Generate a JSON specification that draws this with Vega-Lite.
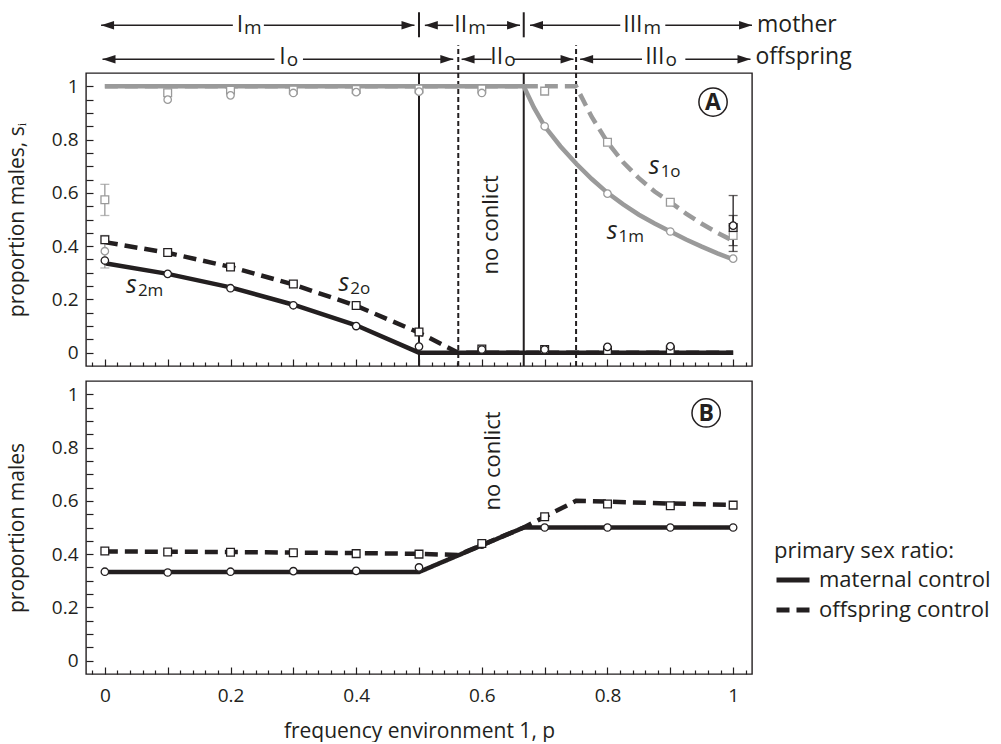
{
  "$schema": "https://vega.github.io/schema/vega-lite/v6.json",
  "padding": {"left": 5, "top": 10, "right": 0, "bottom": 0},
  "config": {
    "font": "Open Sans",
    "view": {"stroke": "#231f20", "strokeWidth": 1.4},
    "axis": {"labelFont": "Open Sans", "labelFontSize": 19, "labelColor": "#231f20", "titleFont": "Open Sans", "titleFontSize": 21, "titleFontWeight": "normal", "titleColor": "#231f20", "tickColor": "#231f20", "tickWidth": 1.2, "domain": false, "grid": false, "labelOverlap": false, "labelFlush": false},
    "text": {"color": "#231f20"}
  },
  "spacing": 12,
  "resolve": {"scale": {"x": "independent", "y": "independent", "strokeDash": "independent", "stroke": "independent", "color": "independent", "shape": "independent"}, "legend": {"strokeDash": "independent"}},
  "datasets": {
    "band": [{"x": 0.5625, "x2": 0.6667}],
    "vrules": [
      {"x": 0.5, "y": -0.05, "y2": 1.05, "kind": "solid"},
      {"x": 0.5, "y": 1.184, "y2": 1.278, "kind": "solid"},
      {"x": 0.6667, "y": -0.05, "y2": 1.05, "kind": "solid"},
      {"x": 0.6667, "y": 1.184, "y2": 1.278, "kind": "solid"},
      {"x": 0.5625, "y": -0.05, "y2": 1.154, "kind": "dashed"},
      {"x": 0.75, "y": -0.05, "y2": 1.154, "kind": "dashed"}
    ],
    "linesA": [
      {"x": 0, "y": 1, "variable": "s1", "control": "offspring control"},
      {"x": 0.75, "y": 1, "variable": "s1", "control": "offspring control"},
      {"x": 0.775, "y": 0.885, "variable": "s1", "control": "offspring control"},
      {"x": 0.8, "y": 0.79, "variable": "s1", "control": "offspring control"},
      {"x": 0.825, "y": 0.715, "variable": "s1", "control": "offspring control"},
      {"x": 0.85, "y": 0.655, "variable": "s1", "control": "offspring control"},
      {"x": 0.875, "y": 0.605, "variable": "s1", "control": "offspring control"},
      {"x": 0.9, "y": 0.565, "variable": "s1", "control": "offspring control"},
      {"x": 0.925, "y": 0.522, "variable": "s1", "control": "offspring control"},
      {"x": 0.95, "y": 0.484, "variable": "s1", "control": "offspring control"},
      {"x": 0.975, "y": 0.45, "variable": "s1", "control": "offspring control"},
      {"x": 1, "y": 0.42, "variable": "s1", "control": "offspring control"},
      {"x": 0, "y": 1, "variable": "s1", "control": "maternal control"},
      {"x": 0.6667, "y": 1, "variable": "s1", "control": "maternal control"},
      {"x": 0.683, "y": 0.92, "variable": "s1", "control": "maternal control"},
      {"x": 0.7, "y": 0.85, "variable": "s1", "control": "maternal control"},
      {"x": 0.725, "y": 0.775, "variable": "s1", "control": "maternal control"},
      {"x": 0.75, "y": 0.71, "variable": "s1", "control": "maternal control"},
      {"x": 0.775, "y": 0.652, "variable": "s1", "control": "maternal control"},
      {"x": 0.8, "y": 0.6, "variable": "s1", "control": "maternal control"},
      {"x": 0.825, "y": 0.557, "variable": "s1", "control": "maternal control"},
      {"x": 0.85, "y": 0.518, "variable": "s1", "control": "maternal control"},
      {"x": 0.875, "y": 0.485, "variable": "s1", "control": "maternal control"},
      {"x": 0.9, "y": 0.455, "variable": "s1", "control": "maternal control"},
      {"x": 0.925, "y": 0.425, "variable": "s1", "control": "maternal control"},
      {"x": 0.95, "y": 0.398, "variable": "s1", "control": "maternal control"},
      {"x": 0.975, "y": 0.373, "variable": "s1", "control": "maternal control"},
      {"x": 1, "y": 0.35, "variable": "s1", "control": "maternal control"},
      {"x": 0, "y": 0.415, "variable": "s2", "control": "offspring control"},
      {"x": 0.1, "y": 0.375, "variable": "s2", "control": "offspring control"},
      {"x": 0.2, "y": 0.322, "variable": "s2", "control": "offspring control"},
      {"x": 0.3, "y": 0.256, "variable": "s2", "control": "offspring control"},
      {"x": 0.4, "y": 0.176, "variable": "s2", "control": "offspring control"},
      {"x": 0.5, "y": 0.075, "variable": "s2", "control": "offspring control"},
      {"x": 0.5625, "y": 0, "variable": "s2", "control": "offspring control"},
      {"x": 1, "y": 0, "variable": "s2", "control": "offspring control"},
      {"x": 0, "y": 0.336, "variable": "s2", "control": "maternal control"},
      {"x": 0.1, "y": 0.296, "variable": "s2", "control": "maternal control"},
      {"x": 0.2, "y": 0.245, "variable": "s2", "control": "maternal control"},
      {"x": 0.3, "y": 0.18, "variable": "s2", "control": "maternal control"},
      {"x": 0.4, "y": 0.103, "variable": "s2", "control": "maternal control"},
      {"x": 0.5, "y": 0, "variable": "s2", "control": "maternal control"},
      {"x": 1, "y": 0, "variable": "s2", "control": "maternal control"}
    ],
    "ptsA": [
      {"x": 0, "y": 0.381, "variable": "s1", "control": "maternal control"},
      {"x": 0.1, "y": 0.95, "variable": "s1", "control": "maternal control"},
      {"x": 0.2, "y": 0.966, "variable": "s1", "control": "maternal control"},
      {"x": 0.3, "y": 0.975, "variable": "s1", "control": "maternal control"},
      {"x": 0.4, "y": 0.978, "variable": "s1", "control": "maternal control"},
      {"x": 0.5, "y": 0.98, "variable": "s1", "control": "maternal control"},
      {"x": 0.6, "y": 0.975, "variable": "s1", "control": "maternal control"},
      {"x": 0.7, "y": 0.85, "variable": "s1", "control": "maternal control"},
      {"x": 0.8, "y": 0.597, "variable": "s1", "control": "maternal control"},
      {"x": 0.9, "y": 0.455, "variable": "s1", "control": "maternal control"},
      {"x": 1, "y": 0.353, "variable": "s1", "control": "maternal control"},
      {"x": 0, "y": 0.574, "variable": "s1", "control": "offspring control"},
      {"x": 0.1, "y": 0.976, "variable": "s1", "control": "offspring control"},
      {"x": 0.2, "y": 0.985, "variable": "s1", "control": "offspring control"},
      {"x": 0.3, "y": 0.986, "variable": "s1", "control": "offspring control"},
      {"x": 0.4, "y": 0.988, "variable": "s1", "control": "offspring control"},
      {"x": 0.5, "y": 0.99, "variable": "s1", "control": "offspring control"},
      {"x": 0.6, "y": 0.99, "variable": "s1", "control": "offspring control"},
      {"x": 0.7, "y": 0.982, "variable": "s1", "control": "offspring control"},
      {"x": 0.8, "y": 0.79, "variable": "s1", "control": "offspring control"},
      {"x": 0.9, "y": 0.565, "variable": "s1", "control": "offspring control"},
      {"x": 1, "y": 0.44, "variable": "s1", "control": "offspring control"},
      {"x": 0, "y": 0.346, "variable": "s2", "control": "maternal control"},
      {"x": 0.1, "y": 0.296, "variable": "s2", "control": "maternal control"},
      {"x": 0.2, "y": 0.242, "variable": "s2", "control": "maternal control"},
      {"x": 0.3, "y": 0.178, "variable": "s2", "control": "maternal control"},
      {"x": 0.4, "y": 0.1, "variable": "s2", "control": "maternal control"},
      {"x": 0.5, "y": 0.023, "variable": "s2", "control": "maternal control"},
      {"x": 0.6, "y": 0.012, "variable": "s2", "control": "maternal control"},
      {"x": 0.7, "y": 0.012, "variable": "s2", "control": "maternal control"},
      {"x": 0.8, "y": 0.022, "variable": "s2", "control": "maternal control"},
      {"x": 0.9, "y": 0.024, "variable": "s2", "control": "maternal control"},
      {"x": 1, "y": 0.477, "variable": "s2", "control": "maternal control"},
      {"x": 0, "y": 0.424, "variable": "s2", "control": "offspring control"},
      {"x": 0.1, "y": 0.376, "variable": "s2", "control": "offspring control"},
      {"x": 0.2, "y": 0.322, "variable": "s2", "control": "offspring control"},
      {"x": 0.3, "y": 0.258, "variable": "s2", "control": "offspring control"},
      {"x": 0.4, "y": 0.177, "variable": "s2", "control": "offspring control"},
      {"x": 0.5, "y": 0.078, "variable": "s2", "control": "offspring control"},
      {"x": 0.6, "y": 0.014, "variable": "s2", "control": "offspring control"},
      {"x": 0.7, "y": 0.012, "variable": "s2", "control": "offspring control"},
      {"x": 0.8, "y": 0.008, "variable": "s2", "control": "offspring control"},
      {"x": 0.9, "y": 0.01, "variable": "s2", "control": "offspring control"},
      {"x": 1, "y": 0.47, "variable": "s2", "control": "offspring control"}
    ],
    "errA": [
      {"x": 0, "lo": 0.515, "hi": 0.632, "variable": "s1"},
      {"x": 0, "lo": 0.318, "hi": 0.44, "variable": "s1"},
      {"x": 1, "lo": 0.38, "hi": 0.59, "variable": "s2"},
      {"x": 1, "lo": 0.402, "hi": 0.515, "variable": "s2"}
    ],
    "sLabels": [
      {"x": 0.051, "y": 0.223, "main": "s", "sub": "2m"},
      {"x": 0.389, "y": 0.233, "main": "s", "sub": "2o"},
      {"x": 0.883, "y": 0.672, "main": "s", "sub": "1o"},
      {"x": 0.816, "y": 0.427, "main": "s", "sub": "1m"}
    ],
    "arrowLines": [
      {"x": -0.006, "x2": 0.2037, "y": 1.229},
      {"x": 0.2531, "x2": 0.4928, "y": 1.229},
      {"x": 0.5093, "x2": 0.5545, "y": 1.229},
      {"x": 0.6077, "x2": 0.6608, "y": 1.229},
      {"x": 0.6767, "x2": 0.8203, "y": 1.229},
      {"x": 0.892, "x2": 1.03, "y": 1.229},
      {"x": -0.0037, "x2": 0.27, "y": 1.1015},
      {"x": 0.3153, "x2": 0.5545, "y": 1.1015},
      {"x": 0.5678, "x2": 0.6156, "y": 1.1015},
      {"x": 0.6502, "x2": 0.7459, "y": 1.1015},
      {"x": 0.7565, "x2": 0.8549, "y": 1.1015},
      {"x": 0.9239, "x2": 1.0276, "y": 1.1015}
    ],
    "arrowHeads": [
      {"x": -0.006, "y": 1.229, "dir": "L"},
      {"x": 0.4928, "y": 1.229, "dir": "R"},
      {"x": 0.5093, "y": 1.229, "dir": "L"},
      {"x": 0.6608, "y": 1.229, "dir": "R"},
      {"x": 0.6767, "y": 1.229, "dir": "L"},
      {"x": 1.03, "y": 1.229, "dir": "R"},
      {"x": -0.0037, "y": 1.1015, "dir": "L"},
      {"x": 0.5545, "y": 1.1015, "dir": "R"},
      {"x": 0.5678, "y": 1.1015, "dir": "L"},
      {"x": 0.7459, "y": 1.1015, "dir": "R"},
      {"x": 0.7565, "y": 1.1015, "dir": "L"},
      {"x": 1.0276, "y": 1.1015, "dir": "R"}
    ],
    "roman": [
      {"x": 0.22, "y": 1.203, "main": "I", "sub": "m"},
      {"x": 0.5766, "y": 1.203, "main": "II", "sub": "m"},
      {"x": 0.8557, "y": 1.203, "main": "III", "sub": "m"},
      {"x": 0.2879, "y": 1.085, "main": "I", "sub": "o"},
      {"x": 0.634, "y": 1.085, "main": "II", "sub": "o"},
      {"x": 0.8907, "y": 1.085, "main": "III", "sub": "o"}
    ],
    "sideLabels": [
      {"x": 1.038, "y": 1.203, "t": "mother"},
      {"x": 1.0356, "y": 1.085, "t": "offspring"}
    ],
    "linesB": [
      {"x": 0, "y": 0.41, "control": "offspring control"},
      {"x": 0.1, "y": 0.409, "control": "offspring control"},
      {"x": 0.2, "y": 0.408, "control": "offspring control"},
      {"x": 0.3, "y": 0.406, "control": "offspring control"},
      {"x": 0.4, "y": 0.404, "control": "offspring control"},
      {"x": 0.5, "y": 0.401, "control": "offspring control"},
      {"x": 0.5625, "y": 0.397, "control": "offspring control"},
      {"x": 0.6667, "y": 0.5, "control": "offspring control"},
      {"x": 0.7, "y": 0.54, "control": "offspring control"},
      {"x": 0.75, "y": 0.6, "control": "offspring control"},
      {"x": 0.8, "y": 0.597, "control": "offspring control"},
      {"x": 0.9, "y": 0.59, "control": "offspring control"},
      {"x": 1, "y": 0.585, "control": "offspring control"},
      {"x": 0, "y": 0.333, "control": "maternal control"},
      {"x": 0.5, "y": 0.333, "control": "maternal control"},
      {"x": 0.6667, "y": 0.5, "control": "maternal control"},
      {"x": 1, "y": 0.5, "control": "maternal control"}
    ],
    "ptsB": [
      {"x": 0, "y": 0.334, "control": "maternal control"},
      {"x": 0.1, "y": 0.331, "control": "maternal control"},
      {"x": 0.2, "y": 0.334, "control": "maternal control"},
      {"x": 0.3, "y": 0.336, "control": "maternal control"},
      {"x": 0.4, "y": 0.337, "control": "maternal control"},
      {"x": 0.5, "y": 0.35, "control": "maternal control"},
      {"x": 0.6, "y": 0.436, "control": "maternal control"},
      {"x": 0.7, "y": 0.5, "control": "maternal control"},
      {"x": 0.8, "y": 0.5, "control": "maternal control"},
      {"x": 0.9, "y": 0.5, "control": "maternal control"},
      {"x": 1, "y": 0.5, "control": "maternal control"},
      {"x": 0, "y": 0.412, "control": "offspring control"},
      {"x": 0.1, "y": 0.408, "control": "offspring control"},
      {"x": 0.2, "y": 0.407, "control": "offspring control"},
      {"x": 0.3, "y": 0.405, "control": "offspring control"},
      {"x": 0.4, "y": 0.402, "control": "offspring control"},
      {"x": 0.5, "y": 0.4, "control": "offspring control"},
      {"x": 0.6, "y": 0.44, "control": "offspring control"},
      {"x": 0.7, "y": 0.54, "control": "offspring control"},
      {"x": 0.8, "y": 0.588, "control": "offspring control"},
      {"x": 0.9, "y": 0.582, "control": "offspring control"},
      {"x": 1, "y": 0.584, "control": "offspring control"}
    ]
  },
  "vconcat": [
    {
      "width": 666,
      "height": 293,
      "encoding": {
        "x": {"field": "x", "type": "quantitative", "scale": {"domain": [-0.03, 1.03], "nice": false, "zero": false},
          "axis": {"values": [-0.02,0,0.02,0.04,0.06,0.08,0.1,0.12,0.14,0.16,0.18,0.2,0.22,0.24,0.26,0.28,0.3,0.32,0.34,0.36,0.38,0.4,0.42,0.44,0.46,0.48,0.5,0.52,0.54,0.56,0.58,0.6,0.62,0.64,0.66,0.68,0.7,0.72,0.74,0.76,0.78,0.8,0.82,0.84,0.86,0.88,0.9,0.92,0.94,0.96,0.98,1,1.02],
            "labels": false, "title": null,
            "tickSize": {"condition": {"test": "abs(datum.value*10-round(datum.value*10))<0.001", "value": -7}, "value": -4}}},
        "y": {"field": "y", "type": "quantitative", "scale": {"domain": [-0.05, 1.05], "nice": false, "zero": false},
          "axis": {"values": [0,0.05,0.1,0.15,0.2,0.25,0.3,0.35,0.4,0.45,0.5,0.55,0.6,0.65,0.7,0.75,0.8,0.85,0.9,0.95,1],
            "format": "~g", "labelExpr": "abs(datum.value*5-round(datum.value*5))<0.001 ? datum.label : ''",
            "tickSize": -7, "labelPadding": 15, "title": "proportion males, sᵢ", "titlePadding": 24}}
      },
      "layer": [
        {"data": {"name": "band"}, "mark": {"type": "rect", "color": "#e6e7e8"},
          "encoding": {"x2": {"field": "x2"}, "y": {"datum": -0.05}, "y2": {"datum": 1.05}}},
        {"data": {"name": "vrules"}, "transform": [{"filter": "datum.kind == 'solid'"}],
          "mark": {"type": "rule", "strokeWidth": 2, "color": "#231f20"}, "encoding": {"y2": {"field": "y2"}}},
        {"data": {"name": "vrules"}, "transform": [{"filter": "datum.kind == 'dashed'"}],
          "mark": {"type": "rule", "strokeWidth": 2, "color": "#231f20", "strokeDash": [5, 3]}, "encoding": {"y2": {"field": "y2"}}},
        {"data": {"values": [{"x": 0.614, "y": 0.48, "t": "no conlict"}]},
          "mark": {"type": "text", "angle": 270, "fontSize": 22, "align": "center", "baseline": "middle"},
          "encoding": {"text": {"field": "t"}}},
        {"data": {"name": "linesA"}, "transform": [{"filter": "datum.control == 'offspring control'"}],
          "mark": {"type": "line", "strokeWidth": 4.5, "strokeDash": [13, 7], "strokeCap": "butt"},
          "encoding": {"stroke": {"field": "variable", "scale": {"domain": ["s1", "s2"], "range": ["#9a9a9a", "#231f20"]}, "legend": null}, "detail": {"field": "variable"}}},
        {"data": {"name": "linesA"}, "transform": [{"filter": "datum.control == 'maternal control'"}],
          "mark": {"type": "line", "strokeWidth": 4.5, "strokeCap": "butt"},
          "encoding": {"stroke": {"field": "variable", "scale": {"domain": ["s1", "s2"], "range": ["#9a9a9a", "#231f20"]}, "legend": null}, "detail": {"field": "variable"}}},
        {"data": {"name": "errA"}, "mark": {"type": "rule", "strokeWidth": 1.3},
          "encoding": {"y": {"field": "lo", "type": "quantitative"}, "y2": {"field": "hi"}, "stroke": {"field": "variable", "scale": {"domain": ["s1", "s2"], "range": ["#9a9a9a", "#231f20"]}, "legend": null}}},
        {"data": {"name": "errA"}, "transform": [{"fold": ["lo", "hi"], "as": ["k", "v"]}],
          "mark": {"type": "tick", "orient": "horizontal", "size": 9, "thickness": 1.3},
          "encoding": {"y": {"field": "v", "type": "quantitative"}, "color": {"field": "variable", "scale": {"domain": ["s1", "s2"], "range": ["#9a9a9a", "#231f20"]}, "legend": null}}},
        {"data": {"name": "ptsA"}, "transform": [{"filter": "datum.control == 'offspring control'"}],
          "mark": {"type": "point", "shape": "square", "size": 60, "filled": true, "fill": "white", "strokeWidth": 1.3, "opacity": 1},
          "encoding": {"stroke": {"field": "variable", "scale": {"domain": ["s1", "s2"], "range": ["#9a9a9a", "#231f20"]}, "legend": null}}},
        {"data": {"name": "ptsA"}, "transform": [{"filter": "datum.control == 'maternal control'"}],
          "mark": {"type": "point", "shape": "circle", "size": 55, "filled": true, "fill": "white", "strokeWidth": 1.3, "opacity": 1},
          "encoding": {"stroke": {"field": "variable", "scale": {"domain": ["s1", "s2"], "range": ["#9a9a9a", "#231f20"]}, "legend": null}}},
        {"data": {"name": "sLabels"}, "mark": {"type": "text", "fontStyle": "italic", "fontSize": 25, "align": "right", "baseline": "alphabetic"},
          "encoding": {"text": {"field": "main"}}},
        {"data": {"name": "sLabels"}, "mark": {"type": "text", "fontSize": 17, "align": "left", "baseline": "alphabetic", "dx": 1, "dy": 3},
          "encoding": {"text": {"field": "sub"}}},
        {"data": {"values": [{"x": 0.968, "y": 0.941, "t": "A"}]},
          "layer": [
            {"mark": {"type": "point", "shape": "circle", "size": 800, "filled": false, "color": "#231f20", "strokeWidth": 1.5, "opacity": 1}},
            {"mark": {"type": "text", "fontSize": 23, "fontWeight": "bold", "align": "center", "baseline": "middle", "dy": 1}, "encoding": {"text": {"field": "t"}}}
          ]},
        {"data": {"name": "arrowLines"}, "mark": {"type": "rule", "strokeWidth": 1.5, "color": "#231f20"},
          "encoding": {"x2": {"field": "x2"}}},
        {"data": {"name": "arrowHeads"}, "mark": {"type": "point", "size": 42, "filled": true, "color": "#231f20", "opacity": 1},
          "encoding": {"shape": {"field": "dir", "scale": {"domain": ["L", "R"], "range": ["M0,0L4,-1.3L4,1.3Z", "M0,0L-4,-1.3L-4,1.3Z"]}, "legend": null}}},
        {"data": {"name": "roman"}, "mark": {"type": "text", "fontSize": 23, "align": "right", "baseline": "alphabetic"},
          "encoding": {"text": {"field": "main"}}},
        {"data": {"name": "roman"}, "mark": {"type": "text", "fontSize": 19, "align": "left", "baseline": "alphabetic", "dx": 1, "dy": 2},
          "encoding": {"text": {"field": "sub"}}},
        {"data": {"name": "sideLabels"}, "mark": {"type": "text", "fontSize": 23, "align": "left", "baseline": "alphabetic"},
          "encoding": {"text": {"field": "t"}}}
      ]
    },
    {
      "width": 666,
      "height": 293,
      "encoding": {
        "x": {"field": "x", "type": "quantitative", "scale": {"domain": [-0.03, 1.03], "nice": false, "zero": false},
          "axis": {"values": [-0.02,0,0.02,0.04,0.06,0.08,0.1,0.12,0.14,0.16,0.18,0.2,0.22,0.24,0.26,0.28,0.3,0.32,0.34,0.36,0.38,0.4,0.42,0.44,0.46,0.48,0.5,0.52,0.54,0.56,0.58,0.6,0.62,0.64,0.66,0.68,0.7,0.72,0.74,0.76,0.78,0.8,0.82,0.84,0.86,0.88,0.9,0.92,0.94,0.96,0.98,1,1.02],
            "format": "~g", "labelExpr": "abs(datum.value*5-round(datum.value*5))<0.001 && datum.value > -0.01 && datum.value < 1.01 ? datum.label : ''",
            "labelPadding": 19, "title": "frequency environment 1, p", "titlePadding": 12,
            "tickSize": {"condition": {"test": "abs(datum.value*10-round(datum.value*10))<0.001", "value": -7}, "value": -4}}},
        "y": {"field": "y", "type": "quantitative", "scale": {"domain": [-0.05, 1.05], "nice": false, "zero": false},
          "axis": {"values": [0,0.05,0.1,0.15,0.2,0.25,0.3,0.35,0.4,0.45,0.5,0.55,0.6,0.65,0.7,0.75,0.8,0.85,0.9,0.95,1],
            "format": "~g", "labelExpr": "abs(datum.value*5-round(datum.value*5))<0.001 ? datum.label : ''",
            "tickSize": -7, "labelPadding": 15, "title": "proportion males", "titlePadding": 24}}
      },
      "layer": [
        {"data": {"name": "band"}, "mark": {"type": "rect", "color": "#e6e7e8"},
          "encoding": {"x2": {"field": "x2"}, "y": {"datum": -0.05}, "y2": {"datum": 1.05}}},
        {"data": {"values": [{"x": 0.618, "y": 0.75, "t": "no conlict"}]},
          "mark": {"type": "text", "angle": 270, "fontSize": 22, "align": "center", "baseline": "middle"},
          "encoding": {"text": {"field": "t"}}},
        {"data": {"name": "linesB"}, "transform": [{"filter": "datum.control == 'offspring control'"}],
          "mark": {"type": "line", "strokeWidth": 4.5, "strokeCap": "butt", "color": "#231f20"},
          "encoding": {"strokeDash": {"field": "control", "scale": {"domain": ["maternal control", "offspring control"], "range": [[1, 0], [13, 7]]},
            "legend": {"title": "primary sex ratio:", "orient": "none", "legendX": 688, "legendY": 160, "symbolType": "stroke", "symbolSize": 1089, "symbolStrokeWidth": 5, "symbolStrokeColor": "#231f20", "labelFontSize": 22, "titleFontSize": 22, "titleFontWeight": "normal", "labelColor": "#231f20", "titleColor": "#231f20", "rowPadding": -6, "labelOffset": 7, "titlePadding": -2, "labelLimit": 400, "titleLimit": 400}}}},
        {"data": {"name": "linesB"}, "transform": [{"filter": "datum.control == 'maternal control'"}],
          "mark": {"type": "line", "strokeWidth": 4.5, "strokeCap": "butt", "color": "#231f20"},
          "encoding": {"strokeDash": {"field": "control", "scale": {"domain": ["maternal control", "offspring control"], "range": [[1, 0], [13, 7]]}}}},
        {"data": {"name": "ptsB"}, "transform": [{"filter": "datum.control == 'maternal control'"}],
          "mark": {"type": "point", "shape": "circle", "size": 55, "filled": true, "fill": "white", "stroke": "#231f20", "strokeWidth": 1.3, "opacity": 1}},
        {"data": {"name": "ptsB"}, "transform": [{"filter": "datum.control == 'offspring control'"}],
          "mark": {"type": "point", "shape": "square", "size": 60, "filled": true, "fill": "white", "stroke": "#231f20", "strokeWidth": 1.3, "opacity": 1}},
        {"data": {"values": [{"x": 0.957, "y": 0.93, "t": "B"}]},
          "layer": [
            {"mark": {"type": "point", "shape": "circle", "size": 800, "filled": false, "color": "#231f20", "strokeWidth": 1.5, "opacity": 1}},
            {"mark": {"type": "text", "fontSize": 23, "fontWeight": "bold", "align": "center", "baseline": "middle", "dy": 1}, "encoding": {"text": {"field": "t"}}}
          ]}
      ]
    }
  ]
}
